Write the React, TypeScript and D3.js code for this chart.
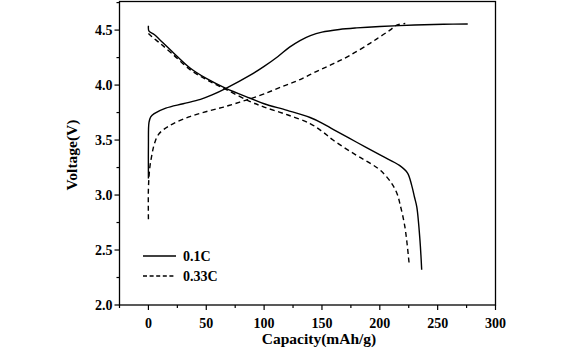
import * as d3 from 'd3';
import { useEffect, useRef } from 'react';

// 0.1C charge / discharge (capacity mAh/g, voltage V)
const charge01Cap = [0, 0, 0.5, 2, 5, 15, 30, 45, 55, 67, 88, 100, 112, 122, 131, 140, 150, 165, 180, 200, 230, 255, 276];
const charge01V = [3.15, 3.45, 3.66, 3.71, 3.74, 3.79, 3.83, 3.87, 3.91, 3.97, 4.09, 4.17, 4.26, 4.345, 4.405, 4.45, 4.482, 4.506, 4.52, 4.533, 4.546, 4.553, 4.555];
const discharge01Cap = [0, 0.5, 5, 10, 20, 36, 50, 67, 88, 100, 120, 139.7, 150, 160, 180, 201, 217, 224, 227.5, 230, 232, 234.7, 236.2];
const discharge01V = [4.54, 4.49, 4.46, 4.41, 4.31, 4.155, 4.06, 3.97, 3.88, 3.83, 3.77, 3.705, 3.655, 3.595, 3.48, 3.36, 3.27, 3.2, 3.09, 2.98, 2.89, 2.59, 2.32];

// 0.33C charge / discharge
const charge033Cap = [0, 0, 1.2, 2.9, 5, 8.6, 15, 21.6, 35, 50.4, 65, 79, 88, 100, 116.6, 131, 145.5, 160, 174.2, 191.5, 200.2, 208.8, 214.6, 222];
const charge033V = [2.78, 3.06, 3.25, 3.36, 3.46, 3.55, 3.61, 3.65, 3.71, 3.76, 3.8, 3.845, 3.875, 3.92, 3.99, 4.05, 4.125, 4.195, 4.27, 4.38, 4.44, 4.5, 4.545, 4.56];
const discharge033Cap = [0, 3, 10, 20, 36, 50, 67, 88, 100, 120, 139.7, 150, 159.6, 180, 191.5, 201, 210, 215, 217.4, 221.7, 225.5];
const discharge033V = [4.47, 4.44, 4.38, 4.29, 4.14, 4.05, 3.96, 3.85, 3.8, 3.73, 3.65, 3.58, 3.5, 3.36, 3.29, 3.22, 3.11, 3.01, 2.92, 2.71, 2.36];

const xTicks = [0, 50, 100, 150, 200, 250, 300];
const yTicks = [2.0, 2.5, 3.0, 3.5, 4.0, 4.5];
const legendLabels = ['0.1C', '0.33C'];

const App = () => {
    const ref = useRef<SVGSVGElement | null>(null);

    useEffect(() => {
        const svg = d3.select(ref.current);
        svg.selectAll('*').remove();

        const left = 119.5, right = 495.5, top = 1.5, bottom = 305;
        const font = '"Liberation Serif", "Times New Roman", serif';

        const x = d3.scaleLinear().domain([-25, 300]).range([left, right]);
        const y = d3.scaleLinear().domain([2.0, 4.76]).range([bottom, top]);

        // frame
        svg.append('rect')
            .attr('x', left)
            .attr('y', top)
            .attr('width', right - left)
            .attr('height', bottom - top)
            .attr('fill', 'none')
            .attr('stroke', '#000')
            .attr('stroke-width', 1.3);

        // ticks, outward
        const xMinor = d3.range(-25, 301, 25).filter((v) => v % 50 !== 0);
        const yMinor = d3.range(2.25, 4.76, 0.5);
        const xAxisG = svg.append('g').attr('transform', `translate(0,${bottom})`);
        xAxisG.selectAll('.minor')
            .data(xMinor)
            .enter()
            .append('line')
            .attr('x1', (d) => x(d))
            .attr('x2', (d) => x(d))
            .attr('y1', 0)
            .attr('y2', 3)
            .attr('stroke', '#000')
            .attr('stroke-width', 1.2);
        xAxisG.selectAll('.major')
            .data(xTicks)
            .enter()
            .append('line')
            .attr('x1', (d) => x(d))
            .attr('x2', (d) => x(d))
            .attr('y1', 0)
            .attr('y2', 5)
            .attr('stroke', '#000')
            .attr('stroke-width', 1.2);
        xAxisG.selectAll('text')
            .data(xTicks)
            .enter()
            .append('text')
            .attr('x', (d) => x(d))
            .attr('y', 23)
            .attr('text-anchor', 'middle')
            .style('font-family', font)
            .style('font-weight', 'bold')
            .style('font-size', '14px')
            .text((d) => d);

        const yAxisG = svg.append('g').attr('transform', `translate(${left},0)`);
        yAxisG.selectAll('.minor')
            .data(yMinor)
            .enter()
            .append('line')
            .attr('x1', 0)
            .attr('x2', -3)
            .attr('y1', (d) => y(d))
            .attr('y2', (d) => y(d))
            .attr('stroke', '#000')
            .attr('stroke-width', 1.2);
        yAxisG.selectAll('.major')
            .data(yTicks)
            .enter()
            .append('line')
            .attr('x1', 0)
            .attr('x2', -5)
            .attr('y1', (d) => y(d))
            .attr('y2', (d) => y(d))
            .attr('stroke', '#000')
            .attr('stroke-width', 1.2);
        yAxisG.selectAll('text')
            .data(yTicks)
            .enter()
            .append('text')
            .attr('x', -7)
            .attr('y', (d) => y(d) + 5)
            .attr('text-anchor', 'end')
            .style('font-family', font)
            .style('font-weight', 'bold')
            .style('font-size', '14px')
            .text((d) => d3.format('.1f')(d));

        // axis labels
        svg.append('text')
            .attr('x', 319)
            .attr('y', 344)
            .attr('text-anchor', 'middle')
            .style('font-family', font)
            .style('font-weight', 'bold')
            .style('font-size', '15.5px')
            .text('Capacity(mAh/g)');

        svg.append('text')
            .attr('transform', 'rotate(-90)')
            .attr('x', -155)
            .attr('y', 77)
            .attr('text-anchor', 'middle')
            .style('font-family', font)
            .style('font-weight', 'bold')
            .style('font-size', '15.5px')
            .text('Voltage(V)');

        // curves
        const line = d3.line<[number, number]>()
            .x((d) => x(d[0]))
            .y((d) => y(d[1]))
            .curve(d3.curveCatmullRom.alpha(0.5));

        const curves = [
            { cap: charge01Cap, v: charge01V, dash: null },
            { cap: discharge01Cap, v: discharge01V, dash: null },
            { cap: charge033Cap, v: charge033V, dash: '5,3.5' },
            { cap: discharge033Cap, v: discharge033V, dash: '5,3.5' },
        ];

        curves.forEach((c) => {
            const pts = c.cap.map((d, i) => [d, c.v[i]] as [number, number]);
            svg.append('path')
                .attr('d', line(pts))
                .attr('fill', 'none')
                .attr('stroke', '#000')
                .attr('stroke-width', 1.4)
                .attr('stroke-dasharray', c.dash);
        });

        // legend
        const legend = svg.append('g');
        legendLabels.forEach((label, i) => {
            const ly = 256 + i * 20;
            legend.append('line')
                .attr('x1', 143)
                .attr('x2', 176)
                .attr('y1', ly)
                .attr('y2', ly)
                .attr('stroke', '#000')
                .attr('stroke-width', 1.4)
                .attr('stroke-dasharray', i === 0 ? null : '4,2.6');
            legend.append('text')
                .attr('x', 183)
                .attr('y', ly + 5)
                .style('font-family', font)
                .style('font-weight', 'bold')
                .style('font-size', '14px')
                .text(label);
        });
    }, []);

    return (
        <svg
            ref={ref}
            width={572}
            height={352}
            style={{ position: 'absolute', left: 0, top: 0, background: '#fff' }}
        />
    );
};

export default App;
